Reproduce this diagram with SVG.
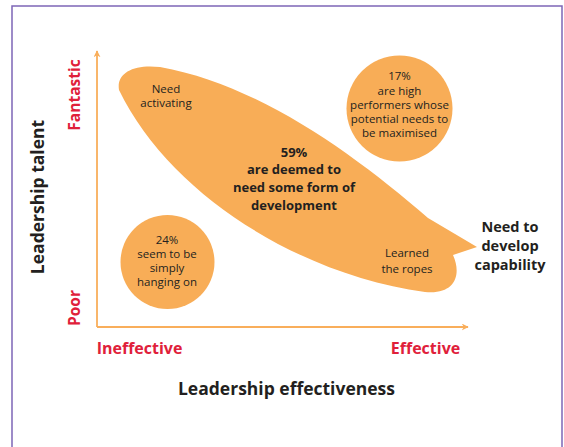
<svg xmlns="http://www.w3.org/2000/svg" width="564" height="447" viewBox="0 0 564 447">
<defs>
<marker id="arr" viewBox="0 0 10 10" refX="9" refY="5" markerWidth="7" markerHeight="7" orient="auto" markerUnits="userSpaceOnUse">
<path d="M0,0 L10,5 L0,10 L3,5 z" fill="#F9AE5B"/>
</marker>
<style>
.blob{fill:#F8AD57;}
.t{font-family:"Open Sans","Liberation Sans",sans-serif;fill:#231F20;text-anchor:middle;}
.s{font-size:11.5px;}
.b{font-weight:bold;font-size:13px;}
.r{font-family:"Open Sans","Liberation Sans",sans-serif;fill:#E0203A;font-weight:bold;font-size:15.5px;text-anchor:middle;}
.ax{stroke:#F9AE5B;stroke-width:1.8;fill:none;}
</style>
</defs>
<rect x="12" y="6" width="550" height="460" fill="#FFFFFF" stroke="#7D66B6" stroke-width="1.5"/>
<g id="connectors">
<line class="ax" x1="97" y1="327" x2="97" y2="51" marker-end="url(#arr)"/>
<line class="ax" x1="97" y1="327" x2="468" y2="327" marker-end="url(#arr)"/>
</g>
<g id="blob59">
<path class="blob" d="M119 90 C116 72,135 64,160 67 C260 85,355 155,428 218 L477 247 L453 255 C462 275,455 295,425 292 C300 275,170 195,119 90 Z"/>
<text class="t s" x="166" y="93">Need</text>
<text class="t s" x="166" y="107">activating</text>
<text class="t b" x="294" y="157">59%</text>
<text class="t b" x="294" y="174">are deemed to</text>
<text class="t b" x="294" y="192">need some form of</text>
<text class="t b" x="294" y="210">development</text>
<text class="t s" x="407" y="257">Learned</text>
<text class="t s" x="407" y="273">the ropes</text>
</g>
<g id="circle17">
<circle class="blob" cx="399.5" cy="108.5" r="53"/>
<text class="t s" x="399.5" y="80">17%</text>
<text class="t s" x="399.5" y="95">are high</text>
<text class="t s" x="399.5" y="109">performers whose</text>
<text class="t s" x="399.5" y="123">potential needs to</text>
<text class="t s" x="399.5" y="137">be maximised</text>
</g>
<g id="circle24">
<circle class="blob" cx="167.5" cy="262" r="47"/>
<text class="t s" x="167" y="244">24%</text>
<text class="t s" x="167" y="258">seem to be</text>
<text class="t s" x="167" y="272">simply</text>
<text class="t s" x="167" y="286">hanging on</text>
</g>
<g id="need-develop">
<text class="t" style="font-weight:bold;font-size:14.5px" x="510" y="232">Need to</text>
<text class="t" style="font-weight:bold;font-size:14.5px" x="510" y="251">develop</text>
<text class="t" style="font-weight:bold;font-size:14.5px" x="510" y="270">capability</text>
</g>
<g id="labels">
<text class="r" style="font-size:16px" x="139.5" y="354">Ineffective</text>
<text class="r" style="font-size:16px" x="425.5" y="354">Effective</text>
<text class="t" style="font-weight:bold;font-size:17.5px" x="286.5" y="395">Leadership effectiveness</text>
<text class="r" transform="translate(80,95) rotate(-90)" x="0" y="0">Fantastic</text>
<text class="r" transform="translate(80,308) rotate(-90)" x="0" y="0">Poor</text>
<text class="t" style="font-weight:bold;font-size:17.5px" transform="translate(44,197) rotate(-90)" x="0" y="0">Leadership talent</text>
</g>
</svg>
